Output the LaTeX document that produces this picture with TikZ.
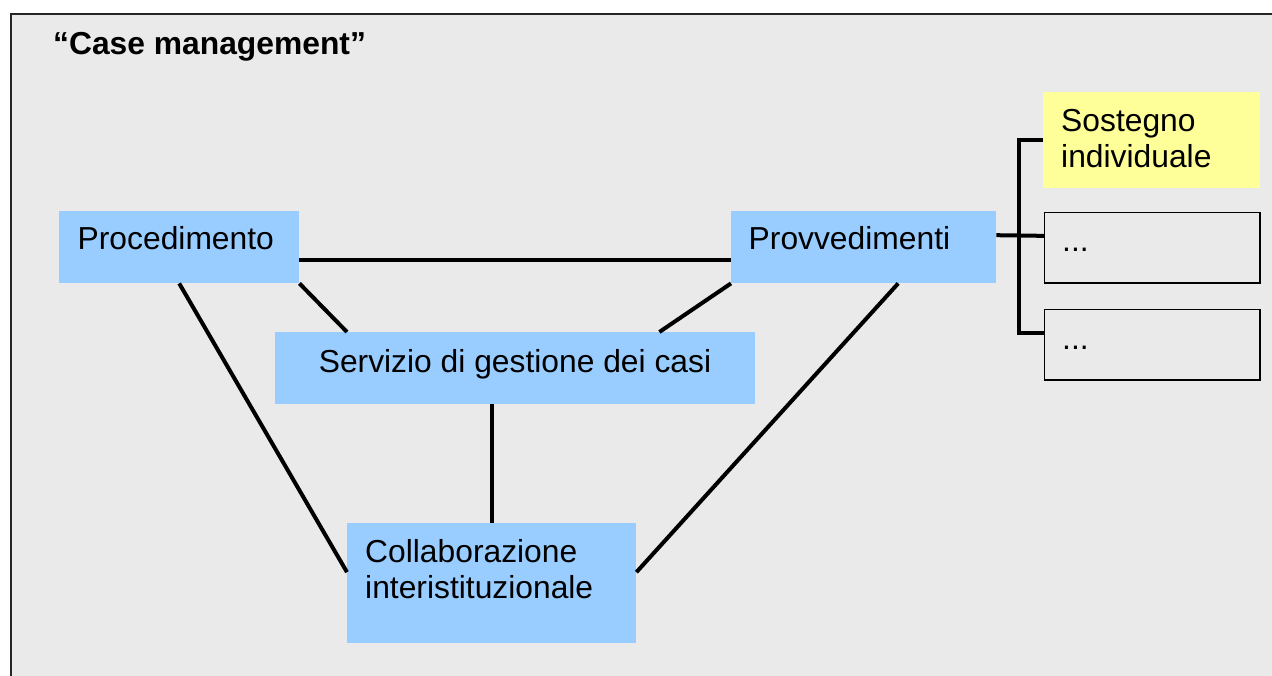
\documentclass[tikz,border=0pt]{standalone}
\usepackage{fontspec}
\setmainfont{Liberation Sans}
\definecolor{bgc}{HTML}{EAEAEA}
\definecolor{boxblue}{HTML}{99CCFF}
\definecolor{boxyellow}{HTML}{FFFF99}
\tikzset{
  bluebox/.style={rectangle, fill=boxblue, draw=none, anchor=north west, inner sep=0},
  yellowbox/.style={rectangle, fill=boxyellow, draw=none, anchor=north west, inner sep=0},
  plainbox/.style={rectangle, fill=bgc, draw=black, line width=1.6bp, anchor=north west, inner sep=0},
  boxtext/.style={inner sep=0, anchor=base west, align=left, font=\fontsize{31.8bp}{36bp}\selectfont},
  conn/.style={line width=4bp, draw=black},
}
\begin{document}
\begin{tikzpicture}[x=1bp,y=-1bp]
\useasboundingbox (0,0) rectangle (1272,676);
\fill[bgc] (11,14) rectangle (1272,676);
\draw[line width=2bp, draw=black!85] (11,676) -- (11,14) -- (1272,14);

\node[boxtext, font=\fontsize{31.8bp}{36bp}\selectfont\bfseries] (title) at (53,55) {“Case management”};

% connectors (behind boxes)
\node[bluebox, minimum width=240bp, minimum height=72bp] (proc) at (59,211) {};
\node[bluebox, minimum width=265bp, minimum height=72bp] (prov) at (731,211) {};
\node[bluebox, minimum width=480bp, minimum height=72bp] (serv) at (275,332) {};
\node[bluebox, minimum width=289bp, minimum height=120bp] (coll) at (347,523) {};
\node[yellowbox, minimum width=217bp, minimum height=96bp] (sost) at (1043,92) {};
\node[plainbox, minimum width=215.5bp, minimum height=70.5bp] (dot1) at (1043.8,211.8) {};
\node[plainbox, minimum width=215.5bp, minimum height=70.5bp] (dot2) at (1043.8,308.8) {};

\draw[conn] ([yshift=-13bp]proc.east) -- ([yshift=-13bp]prov.west);
\draw[conn] (proc.south east) -- ([xshift=72bp]serv.north west);
\draw[conn] (prov.south west) -- ([xshift=-96bp]serv.north east);
\draw[conn] (proc.south) -- ([yshift=11bp]coll.west);
\draw[conn] ([xshift=34.5bp]prov.south) -- ([yshift=11bp]coll.east);
\draw[conn] (coll.north) -- (coll.north |- serv.south);
\draw[conn] ([yshift=12bp]prov.east) -- ([yshift=12bp]dot1.west);
\draw[conn] (sost.west) -- ++(-24,0) |- ([yshift=12bp]dot2.west);

% texts
\node[boxtext] (proct) at (77.5,250) {Procedimento};
\node[boxtext] (provt) at (748.5,250) {Provvedimenti};
\node[boxtext, anchor=base] (servt) at (515,372) {Servizio di gestione dei casi};
\node[boxtext] (collt) at (365,598) {Collaborazione\\interistituzionale};
\node[boxtext] (sostt) at (1061,168) {Sostegno\\individuale};
\node[boxtext] (dot1t) at (1062,252) {...};
\node[boxtext] (dot2t) at (1062,349) {...};
\end{tikzpicture}
\end{document}
